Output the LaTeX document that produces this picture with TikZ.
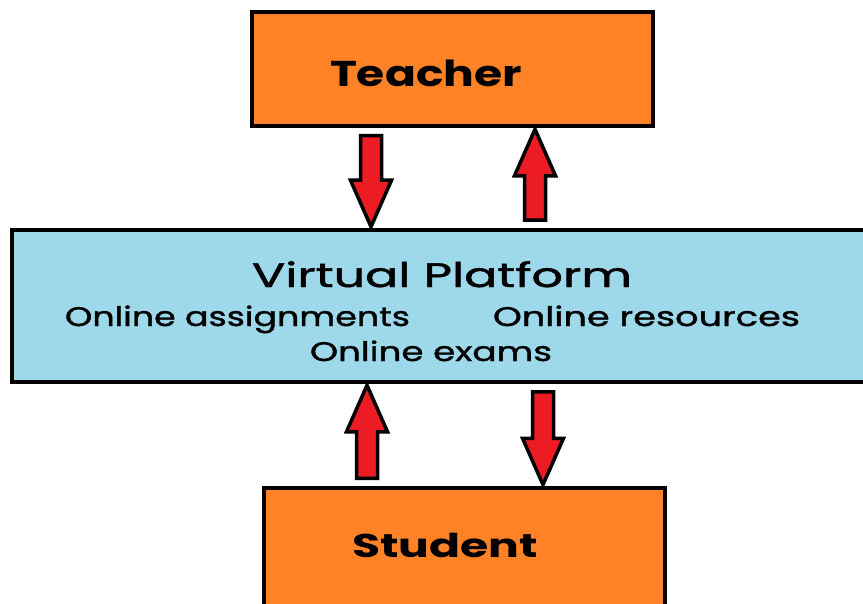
\documentclass[tikz,border=0pt]{standalone}
\usepackage{fontspec}
\setmainfont{Poppins}
\newfontfamily\platfont{Poppins}[FakeBold=1.2]
\usepackage{graphicx}
\usetikzlibrary{calc}

\definecolor{boxorange}{RGB}{255,131,38}
\definecolor{platblue}{RGB}{157,217,234}
\definecolor{arrowred}{RGB}{237,28,36}

% scale a text horizontally so that it is exactly #1 wide
\newlength\fitlen
\newcommand\fitto[2]{\settowidth\fitlen{#2}\pgfmathsetmacro\fitratio{#1/\fitlen}\scalebox{\fitratio}[1]{#2}}

% block arrow at x = #1, tail near anchor #2, tip on anchor #3
\newcommand\blockarrow[3]{%
  \draw[arrowbody] let \p1=(#1,0 |- #2), \p2=(#1,0 |- #3),
      \n1={ifthenelse(\y2>\y1,1,-1)} in
    ({\x1-10.5bp},{\y1+\n1*8bp}) -- ({\x1-10.5bp},{\y2-\n1*48bp})
    -- ({\x1-20.5bp},{\y2-\n1*48bp}) -- ({\x2},{\y2-\n1*1.5bp})
    -- ({\x1+20.5bp},{\y2-\n1*48bp}) -- ({\x1+10.5bp},{\y2-\n1*48bp})
    -- ({\x1+10.5bp},{\y1+\n1*8bp}) -- cycle;}

\tikzset{
  box/.style={draw=black, line width=3.5bp, rectangle, inner sep=0pt},
  rolebox/.style={box, fill=boxorange, minimum width=401bp},
  platbox/.style={box, fill=platblue},
  caption/.style={anchor=base, inner sep=0pt, text=black},
  teacherfont/.style={font=\fontsize{36}{40}\selectfont\bfseries},
  studentfont/.style={font=\fontsize{33}{38}\selectfont\bfseries},
  titlefont/.style={font=\platfont\fontsize{34}{40}\selectfont},
  itemfont/.style={font=\platfont\fontsize{27}{32}\selectfont},
  arrowbody/.style={draw=black, fill=arrowred, line width=3.5bp, line join=miter}
}

\begin{document}
\begin{tikzpicture}[x=1bp,y=-1bp]
  \useasboundingbox (0,0) rectangle (863,604);
  \clip (0,0) rectangle (863,604);
  \fill[white] (0,0) rectangle (863,604);

  % boxes
  \node[rolebox, minimum height=114bp] (teacher) at (452.5,69) {};
  \node[platbox, minimum width=868bp, minimum height=152bp] (platform) at (446,306) {};
  \node[rolebox, minimum height=152bp] (student) at (464.5,564) {};

  % texts
  \node[caption, teacherfont] (teachertext) at (426,87) {\fitto{192bp}{Teacher}};
  \node[caption, titlefont] (platformtitle) at (442,287) {\fitto{380bp}{Virtual Platform}};
  \node[caption, itemfont] (assignments) at (237.5,326) {\fitto{345bp}{Online assignments}};
  \node[caption, itemfont] (resources) at (646.5,326) {\fitto{307bp}{Online resources}};
  \node[caption, itemfont] (exams) at (431,361) {\fitto{242bp}{Online exams}};
  \node[caption, studentfont] (studenttext) at (445,557) {\fitto{186bp}{Student}};

  % arrows between the boxes
  \blockarrow{371}{teacher.south}{platform.north}
  \blockarrow{535}{platform.north}{teacher.south}
  \blockarrow{367}{student.north}{platform.south}
  \blockarrow{543}{platform.south}{student.north}
\end{tikzpicture}
\end{document}
